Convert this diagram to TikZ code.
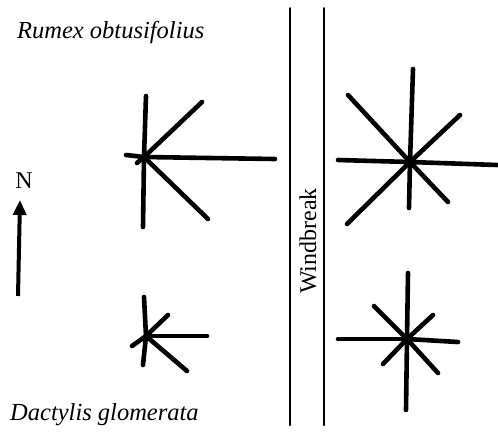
\documentclass[tikz,border=0pt]{standalone}
\usepackage{fontspec}
\setmainfont{Liberation Serif}
\usetikzlibrary{arrows.meta}
\begin{document}
\begin{tikzpicture}[x=1pt,y=-1pt,
  spoke/.style={line width=4.6pt,line cap=round},
  wall/.style={line width=2pt,line cap=round},
  lbl/.style={font=\fontsize{24.5}{28}\selectfont\itshape,anchor=base west,inner sep=0pt},
  northarrow/.style={line width=4pt,-{Triangle[width=13pt,length=15pt]}}]
\useasboundingbox (0,0) rectangle (498,432);
% windbreak
\coordinate (w1a) at (290,8);  \coordinate (w1b) at (290,425);
\coordinate (w2a) at (324,8);  \coordinate (w2b) at (324,425);
\draw[wall] (w1a) -- (w1b);
\draw[wall] (w2a) -- (w2b);
\node[rotate=90,font=\fontsize{24}{28}\selectfont,inner sep=0pt] (wb) at (308,241) {Windbreak};
% labels
\node[lbl] (rumex) at (17,38) {Rumex obtusifolius};
\node[lbl] (dactylis) at (10,420) {Dactylis glomerata};
% north arrow
\node[font=\fontsize{24}{28}\selectfont,inner sep=0pt] (N) at (24,181) {N};
\coordinate (na) at (18,296);
\coordinate (nb) at (20,200);
\draw[northarrow] (na) -- (nb);
% star top-left
\coordinate (c1) at (144,157);
\foreach \p in {(146,96),(143,227),(202,102),(275,159),(208,219),(126,155),(137,163)}
  \draw[spoke] (c1) -- \p;
% star top-right
\coordinate (c2) at (410,162);
\foreach \p in {(413,69),(409,208),(348,95),(460,115),(497,165),(338,160),(448,202),(347,224)}
  \draw[spoke] (c2) -- \p;
% star bottom-left
\coordinate (c3) at (146,336);
\foreach \p in {(144,297),(143,365),(168,315),(207,336),(187,371),(132,346)}
  \draw[spoke] (c3) -- \p;
% star bottom-right
\coordinate (c4) at (407,339);
\foreach \p in {(408,273),(406,410),(374,306),(433,315),(338,339),(458,342),(438,373),(383,364)}
  \draw[spoke] (c4) -- \p;
\end{tikzpicture}
\end{document}
